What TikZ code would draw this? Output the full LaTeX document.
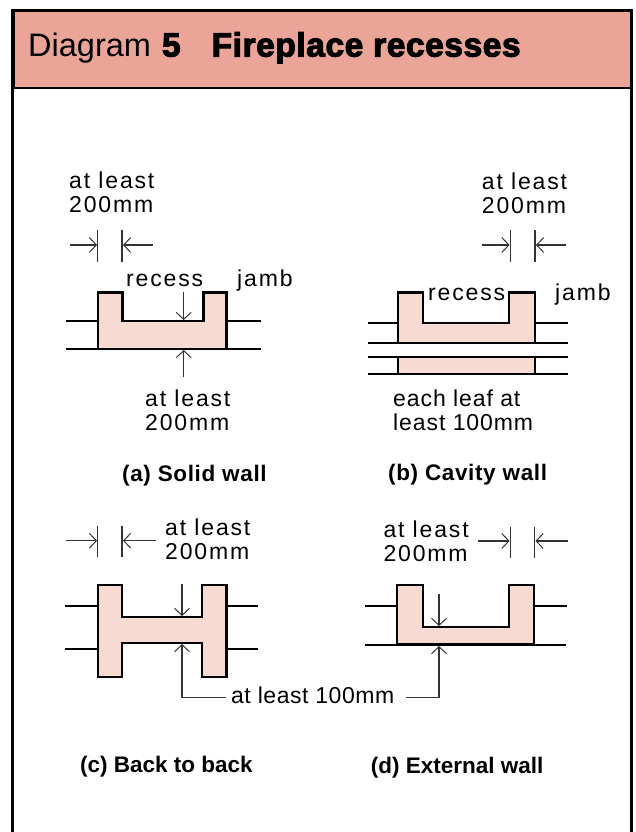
\documentclass[tikz,border=0pt]{standalone}
\usepackage{fontspec}
\setmainfont{Liberation Sans}
\newfontfamily\widefont{Liberation Sans}[LetterSpace=8]
\newfontfamily\midfont{Liberation Sans}[LetterSpace=2.3]
\newfontfamily\leaffont{Liberation Sans}[LetterSpace=4]
\newfontfamily\capfont{Liberation Sans}[LetterSpace=2.8]
\newfontfamily\blackfont{Liberation Sans}[LetterSpace=1.7,BoldFeatures={FakeBold=3.2}]
\usetikzlibrary{arrows.meta}

\definecolor{headercol}{HTML}{EBA598}
\definecolor{wallcol}{HTML}{F7DAD2}

\tikzset{
    >={Straight Barb[length=7pt,width=15pt,line width=1pt]},
    brick/.style={draw, fill=wallcol, line width=2.1pt, line join=miter},
    wall/.style={line width=2pt},
    tick/.style={line width=1.1pt, draw=black!80},
    dim/.style={line width=1.1pt, draw=black!80},
    lbl/.style={inner sep=0pt, anchor=base west, font=\fontsize{23}{24}\selectfont\widefont},
    lbltwo/.style={inner sep=0pt, anchor=north west, align=left, font=\fontsize{23}{24}\selectfont\widefont},
    capA/.style={inner sep=0pt, anchor=base west, font=\fontsize{22.5}{24}\selectfont\capfont\bfseries},
    capB/.style={inner sep=0pt, anchor=base west, font=\fontsize{22.5}{24}\selectfont\bfseries},
}

\begin{document}
\begin{tikzpicture}[x=1pt, y=-1pt]
    \useasboundingbox (0,0) rectangle (635,832);

    % frame and heading
    \fill [headercol] (13,11) rectangle (631,88);
    \draw [line width=2.6pt] (12.5,832) -- (12.5,10.5) -- (631.5,10.5) -- (631.5,832);
    \draw [line width=3pt] (13.5,10.5) -- (13.5,88);
    \draw [line width=2pt] (12.5,88) -- (631.5,88);
    \node [inner sep=0pt, anchor=base west] (title) at (28,56.5)
        {\fontsize{32.5}{36}\selectfont Diagram\hspace{2pt} {\blackfont\bfseries\fontsize{33.5}{36}\selectfont 5\hspace{31pt}Fireplace recesses}};

    % (a) solid wall
    \draw [wall] (65.5,321) -- (98,321) (65.5,349) -- (98,349);
    \draw [wall] (226.5,321) -- (260.5,321) (226.5,349) -- (260.5,349);
    \draw [brick] (98,349) -- (98,292.5) -- (122.5,292.5) -- (122.5,321)
        -- (203.5,321) -- (203.5,292.5) -- (226.5,292.5) -- (226.5,349) -- cycle;
    \draw [tick] (97.7,230) -- (97.7,262) (122,230) -- (122,262);
    \draw [dim, ->] (70,245) -- (97,245);
    \draw [dim, ->] (153,245) -- (123,245);
    \draw [dim, ->] (183.7,292) -- (183.7,320);
    \draw [dim, ->] (183.7,377) -- (183.7,350);
    \node [lbltwo] (wideA) at (69,171.5) {at least\\200mm};
    \node [lbl] (recessA) at (126,286) {recess};
    \node [lbl] (jambA) at (237,286) {jamb};
    \node [lbltwo] (depthA) at (145,389.5) {at least\\200mm};
    \node [capA] (capa) at (122,481) {(a) Solid wall};

    % (b) cavity wall
    \draw [wall] (367.7,323.3) -- (398,323.3) (535,323.3) -- (568.3,323.3);
    \draw [wall] (367.7,342.7) -- (568.3,342.7) (367.7,356.7) -- (568.3,356.7);
    \draw [wall] (367.7,374.3) -- (568.3,374.3);
    \draw [brick] (398,342.7) -- (398,292.5) -- (422.7,292.5) -- (422.7,323.3)
        -- (509,323.3) -- (509,292.5) -- (535,292.5) -- (535,342.7) -- cycle;
    \draw [brick] (398,356.7) rectangle (535,374.3);
    \draw [tick] (510.3,230) -- (510.3,262) (535,230) -- (535,262);
    \draw [dim, ->] (482,245) -- (509.5,245);
    \draw [dim, ->] (565.7,245) -- (536,245);
    \node [lbltwo] (wideB) at (481.7,172.5) {at least\\200mm};
    \node [lbl] (recessB) at (428,300) {recess};
    \node [lbl] (jambB) at (555,300) {jamb};
    \node [lbltwo, font=\fontsize{23}{24}\selectfont\leaffont] (leafB) at (393,389.5) {each leaf at\\least 100mm};
    \node [capA] (capb) at (388,480) {(b) Cavity wall};

    % (c) back to back
    \draw [wall] (65,606) -- (98,606) (65,649) -- (98,649);
    \draw [wall] (226.5,606) -- (257.7,606) (226.5,649) -- (257.7,649);
    \draw [brick] (98,585) -- (122,585) -- (122,617.3) -- (201.7,617.3) -- (201.7,585)
        -- (226.5,585) -- (226.5,677.3) -- (201.7,677.3) -- (201.7,642.7)
        -- (122,642.7) -- (122,677.3) -- (98,677.3) -- cycle;
    \draw [tick] (97.7,525.7) -- (97.7,557.3) (122,525.7) -- (122,557.3);
    \draw [dim, ->] (65.7,540.7) -- (97,540.7);
    \draw [dim, ->] (155.7,540.7) -- (123,540.7);
    \draw [dim, ->] (182,584) -- (182,616);
    \node [lbltwo] (wideC) at (165,518.5) {at least\\200mm};
    \node [lbl, font=\fontsize{23}{24}\selectfont\midfont] (leader) at (231,703) {at least 100mm};
    \draw [dim, ->] (leader.west) ++(-5,3) -| (182,644);
    \node [capB] (capc) at (80,772.5) {(c) Back to back};

    % (d) external wall
    \draw [wall] (365.3,606) -- (397,606) (534.3,606) -- (566.7,606);
    \draw [wall] (365.3,644.5) -- (566,644.5);
    \draw [brick] (397,644.5) -- (397,585) -- (422.7,585) -- (422.7,627.3)
        -- (509,627.3) -- (509,585) -- (534.3,585) -- (534.3,644.5) -- cycle;
    \draw [tick] (510.3,526.7) -- (510.3,558) (534.7,526.7) -- (534.7,558);
    \draw [dim, ->] (478.3,541) -- (509.5,541);
    \draw [dim, ->] (567.7,541) -- (535.5,541);
    \draw [dim, ->] (439,594) -- (439,626);
    \draw [dim, ->] (leader.east) ++(12,3) -| (439,646);
    \node [lbltwo] (wideD) at (383.3,520.5) {at least\\200mm};
    \node [capB] (capd) at (370.7,773) {(d) External wall};
\end{tikzpicture}
\end{document}
